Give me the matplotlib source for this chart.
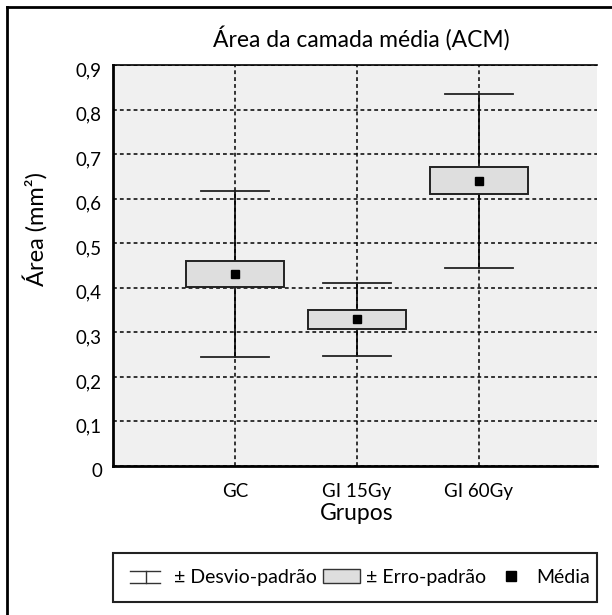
import matplotlib
matplotlib.use("Agg")
import matplotlib.pyplot as plt
from matplotlib.lines import Line2D
from matplotlib.patches import Patch, Rectangle
from matplotlib.legend_handler import HandlerBase
import matplotlib.transforms as mtransforms

plt.rcParams['font.family'] = ['Lato', 'DejaVu Sans']

# dados
grupos = ['GC', 'GI 15Gy', 'GI 60Gy']
media = [0.431, 0.329, 0.640]
erro_padrao = [0.030, 0.021, 0.030]
desvio_padrao = [0.187, 0.082, 0.195]
yticks = [0, 0.1, 0.2, 0.3, 0.4, 0.5, 0.6, 0.7, 0.8, 0.9]
ytick_labels = ['0', '0,1', '0,2', '0,3', '0,4', '0,5', '0,6', '0,7', '0,8', '0,9']

box_cor = '#dedede'
fundo = '#f0f0f0'


class SDHandler(HandlerBase):
    # desenha o simbolo do desvio-padrao na legenda
    def create_artists(self, legend, orig_handle, xdescent, ydescent,
                       width, height, fontsize, trans):
        x0, x1 = -xdescent, -xdescent + width * 0.8
        y0, y1 = -ydescent, -ydescent + 0.9 * height
        xm = x0 + (x1 - x0) * 0.55
        arts = [Line2D([x0, x1], [y1, y1]), Line2D([x0, x1], [y0, y0]),
                Line2D([xm, xm], [y0, y1])]
        for a in arts:
            a.set_color('#333333')
            a.set_linewidth(1.0)
            a.set_transform(trans)
        return arts


fig = plt.figure(figsize=(6.12, 6.15), dpi=100)
W, H = 612, 615
ax = fig.add_axes([113 / W, 1 - 466 / H, 484 / W, 401 / H])
ax.set_facecolor(fundo)

pos = [1, 2, 3]
for x, m, se, sd in zip(pos, media, erro_padrao, desvio_padrao):
    ax.plot([x, x], [m - sd, m + sd], color='black', lw=1.2, zorder=3)
    ax.plot([x - 0.28, x + 0.28], [m + sd, m + sd], color='#222222', lw=1.3, zorder=3)
    ax.plot([x - 0.28, x + 0.28], [m - sd, m - sd], color='#222222', lw=1.3, zorder=3)
    ax.add_patch(Rectangle((x - 0.4, m - se), 0.8, 2 * se, facecolor=box_cor,
                           edgecolor='#222222', lw=1.4, zorder=4))
    ax.plot(x, m, marker='s', color='black', markersize=6, zorder=5)

ax.set_xlim(0, 3.97)
ax.set_ylim(0, 0.9)
ax.set_xticks(pos)
ax.set_xticklabels(grupos, fontsize=13.5)
ax.set_yticks(yticks)
ax.set_yticklabels(ytick_labels, fontsize=13.5)
ax.tick_params(length=0)
ax.tick_params(axis='x', pad=12)
ax.tick_params(axis='y', pad=8)
off = mtransforms.ScaledTranslation(0, -4 / 100, fig.dpi_scale_trans)
for lab in ax.get_yticklabels():
    lab.set_transform(lab.get_transform() + off)

ax.grid(True, color='black', linestyle=(0, (2.5, 2)), lw=1.1, zorder=1)
ax.set_axisbelow(True)
for s in ['left', 'bottom']:
    ax.spines[s].set_linewidth(2)
ax.spines['top'].set_linewidth(1.2)
ax.spines['right'].set_visible(False)

ax.set_ylabel('Área (mm²)', fontsize=17)
ax.yaxis.set_label_coords(-0.135, 0.59)
ax.set_xlabel('Grupos', fontsize=16.5, va='center')
ax.xaxis.set_label_coords(0.504, -0.118)

fig.text(361 / W, 1 - 38 / H, 'Área da camada média (ACM)', fontsize=16.5,
         ha='center', va='center')

# moldura externa (apenas topo e esquerda visiveis)
fig.add_artist(Line2D([7 / W, 1], [1 - 7 / H, 1 - 7 / H], color='black', lw=2))
fig.add_artist(Line2D([7 / W, 7 / W], [0, 1 - 7 / H], color='black', lw=2))

# caixa da legenda
fig.add_artist(Rectangle((113 / W, 13 / H), 484 / W, 49 / H, fill=False,
                         edgecolor='#222222', lw=1.5, transform=fig.transFigure))
handles = [Line2D([], []),
           Patch(facecolor=box_cor, edgecolor='#333333', lw=1.0),
           Line2D([], [], marker='s', color='black', linestyle='none', markersize=6.5)]
labels = ['± Desvio-padrão', '± Erro-padrão', 'Média']
fig.legend(handles, labels, loc='center', ncol=3, frameon=False, fontsize=14,
           bbox_to_anchor=(360 / W, 37.5 / H), handlelength=1.9, handletextpad=0.35,
           columnspacing=0.3, handler_map={handles[0]: SDHandler()})

fig.savefig('out.png', dpi=100)
